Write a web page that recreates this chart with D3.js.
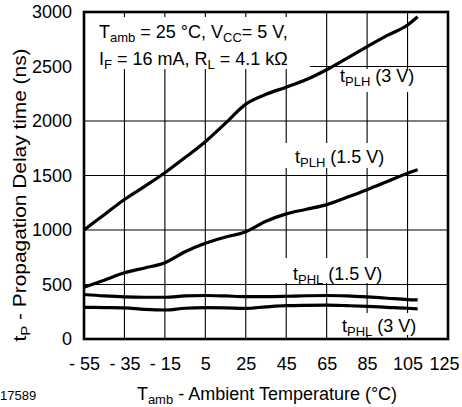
<!DOCTYPE html>
<html>
<head>
<meta charset="utf-8">
<script src="https://cdn.jsdelivr.net/npm/d3@7"></script>
<style>
  html, body { margin: 0; padding: 0; background: #fff; }
  svg { display: block; }
  text { font-family: "Liberation Sans", Arial, Helvetica, sans-serif; fill: #000; }
</style>
</head>
<body>
<svg id="chart" width="462" height="407"></svg>
<script>
// ---- data ----
const temps  = [-55, -45, -35, -25, -15, -5, 5, 15, 25, 35, 45, 55, 65, 75, 85, 95, 105, 110];
const tPLH3  = [1000, 1140, 1280, 1400, 1525, 1665, 1810, 1980, 2155, 2245, 2310, 2380, 2470, 2575, 2682, 2785, 2881, 2957];
const tPLH15 = [475, 540, 607, 652, 700, 800, 878, 935, 985, 1080, 1148, 1190, 1233, 1300, 1370, 1445, 1521, 1552];
const tPHL15 = [408, 395, 386, 383, 383, 395, 399, 395, 389, 389, 392, 397, 399, 395, 386, 374, 362, 359];
const tPHL3  = [291, 288, 285, 272, 266, 282, 287, 285, 281, 295, 306, 309, 310, 306, 300, 291, 282, 276];

const xTicks = [-55, -35, -15, 5, 25, 45, 65, 85, 105, 125];
const xTickLabels = ["- 55", "- 35", "- 15", "5", "25", "45", "65", "85", "105", "125"];
const yTicks = [0, 500, 1000, 1500, 2000, 2500, 3000];
const yTickLabels = ["0", "500", "1000", "1500", "2000", "2500", "3000"];

// ---- layout ----
const svg = d3.select("#chart");
const L = 84, R = 448, T = 12, B = 339;
const x = d3.scaleLinear().domain([-55, 125]).range([L, R]);
const y = d3.scaleLinear().domain([0, 3000]).range([B, T]);
const FS = 18, SUB = 13;

// grid
const grid = svg.append("g").attr("stroke", "#000").attr("stroke-width", 1.1);
grid.selectAll("line.v").data(xTicks.slice(1, -1)).join("line")
  .attr("x1", d => x(d)).attr("x2", d => x(d)).attr("y1", T).attr("y2", B);
grid.selectAll("line.h").data(yTicks.slice(1, -1)).join("line")
  .attr("x1", L).attr("x2", R).attr("y1", d => y(d)).attr("y2", d => y(d));

// label helper: parts = [[text, isSub], ...]
function richText(g, xPos, yPos, parts, size, sub) {
  const t = g.append("text").attr("x", xPos).attr("y", yPos).attr("font-size", size);
  let shifted = false;
  parts.forEach(([s, isSub]) => {
    const ts = t.append("tspan").text(s);
    if (isSub && !shifted) { ts.attr("dy", 4).attr("font-size", sub); shifted = true; }
    else if (isSub) { ts.attr("font-size", sub); }
    else if (!isSub && shifted) { ts.attr("dy", -4); shifted = false; }
  });
  return t;
}

const boxes = svg.append("g");
const curves = svg.append("g");
const labels = svg.append("g");

// white label backgrounds
const boxDefs = [
  [85, 17, 225, 52],
  [336, 69, 92, 23],
  [282, 143, 110, 25],
  [282, 258, 110, 25],
  [336, 313, 92, 22]
];
boxes.selectAll("rect").data(boxDefs).join("rect")
  .attr("x", d => d[0]).attr("y", d => d[1]).attr("width", d => d[2]).attr("height", d => d[3])
  .attr("fill", "#fff");

// curves
const line = d3.line().x((d, i) => x(temps[i])).y(d => y(d)).curve(d3.curveMonotoneX);
curves.selectAll("path").data([tPLH3, tPLH15, tPHL15, tPHL3]).join("path")
  .attr("d", d => line(d))
  .attr("fill", "none").attr("stroke", "#000").attr("stroke-width", 3.2)
  .attr("stroke-linejoin", "round").attr("stroke-linecap", "butt");

// frame
svg.append("rect").attr("x", L).attr("y", T).attr("width", R - L).attr("height", B - T)
  .attr("fill", "none").attr("stroke", "#000").attr("stroke-width", 2.6);

// annotation
richText(labels, 99, 38, [["T", false], ["amb", true], [" = 25 °C, V", false], ["CC", true], ["= 5 V,", false]], FS, SUB);
richText(labels, 99, 65, [["I", false], ["F", true], [" = 16 mA, R", false], ["L", true], [" = 4.1 kΩ", false]], FS, SUB);

// series labels
richText(labels, 340, 82, [["t", false], ["PLH", true], [" (3 V)", false]], FS, SUB);
richText(labels, 295, 163, [["t", false], ["PLH", true], [" (1.5 V)", false]], FS, SUB);
richText(labels, 293, 280, [["t", false], ["PHL", true], [" (1.5 V)", false]], FS, SUB);
richText(labels, 342, 332, [["t", false], ["PHL", true], [" (3 V)", false]], FS, SUB);

// axes (labels only)
const xAxis = d3.axisBottom(x).tickValues(xTicks).tickSize(0).tickPadding(18)
  .tickFormat((d, i) => xTickLabels[i]);
const gx = svg.append("g").attr("transform", `translate(0,${B})`).call(xAxis);
gx.select(".domain").remove();
gx.selectAll("text").attr("font-size", FS).attr("font-family", null)
  .attr("dx", (d, i) => i === xTicks.length - 1 ? -4 : 0);

const yAxis = d3.axisLeft(y).tickValues(yTicks).tickSize(0).tickPadding(12)
  .tickFormat((d, i) => yTickLabels[i]);
const gy = svg.append("g").attr("transform", `translate(${L},0)`).call(yAxis);
gy.select(".domain").remove();
gy.selectAll("text").attr("font-size", FS).attr("font-family", null);

// axis titles
const xt = richText(svg, 0, 400, [["T", false], ["amb", true], [" - Ambient Temperature (°C)", false]], FS, SUB);
xt.attr("x", null).attr("text-anchor", "middle").attr("transform", `translate(${(L + R) / 2 + 1},0)`);
const ytg = svg.append("g").attr("transform", "translate(26,195) rotate(-90) scale(1.16,1)");
richText(ytg, 0, 0, [["t", false], ["P", true], [" - Propagation Delay time (ns)", false]], FS, SUB)
  .attr("text-anchor", "middle");

svg.append("text").attr("x", 0).attr("y", 400).attr("font-size", 13).text("17589");
</script>
</body>
</html>
